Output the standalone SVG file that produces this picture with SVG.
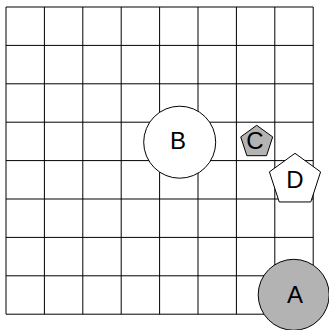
<svg xmlns="http://www.w3.org/2000/svg" width="329" height="330" viewBox="0 0 329 330">
<style>
.grid line{stroke:#000;stroke-width:1}
.node{stroke:#000;stroke-width:1}
.lbl{font-family:"Liberation Sans",Arial,sans-serif;font-size:24px;fill:#000;text-anchor:middle}
</style>
<rect width="329" height="330" fill="#fff"/>
<g id="grid" class="grid">
<line x1="6" y1="7" x2="6" y2="314.2"/>
<line x1="44.4" y1="7" x2="44.4" y2="314.2"/>
<line x1="82.8" y1="7" x2="82.8" y2="314.2"/>
<line x1="121.2" y1="7" x2="121.2" y2="314.2"/>
<line x1="159.6" y1="7" x2="159.6" y2="314.2"/>
<line x1="198" y1="7" x2="198" y2="314.2"/>
<line x1="236.4" y1="7" x2="236.4" y2="314.2"/>
<line x1="274.8" y1="7" x2="274.8" y2="314.2"/>
<line x1="313.2" y1="7" x2="313.2" y2="314.2"/>
<line x1="6" y1="7" x2="313.2" y2="7"/>
<line x1="6" y1="45.4" x2="313.2" y2="45.4"/>
<line x1="6" y1="83.8" x2="313.2" y2="83.8"/>
<line x1="6" y1="122.2" x2="313.2" y2="122.2"/>
<line x1="6" y1="160.6" x2="313.2" y2="160.6"/>
<line x1="6" y1="199" x2="313.2" y2="199"/>
<line x1="6" y1="237.4" x2="313.2" y2="237.4"/>
<line x1="6" y1="275.8" x2="313.2" y2="275.8"/>
<line x1="6" y1="314.2" x2="313.2" y2="314.2"/>
</g>
<g id="connectors"></g>
<g id="node-B">
<circle class="node" cx="179.7" cy="142.2" r="36" fill="#fff"/>
<text class="lbl" x="178" y="148.7">B</text>
</g>
<g id="node-C">
<polygon class="node" fill="#b3b3b3" points="256.7,125.3 272.68,136.91 266.57,155.69 246.83,155.69 240.72,136.91"/>
<text class="lbl" x="255" y="149.3">C</text>
</g>
<g id="node-D">
<polygon class="node" fill="#fff" points="295,153.3 320.58,171.89 310.81,201.96 279.19,201.96 269.42,171.89"/>
<text class="lbl" x="295" y="188.2">D</text>
</g>
<g id="node-A">
<circle class="node" cx="293.7" cy="294.8" r="35.5" fill="#b3b3b3"/>
<text class="lbl" x="295" y="303.3">A</text>
</g>
</svg>
